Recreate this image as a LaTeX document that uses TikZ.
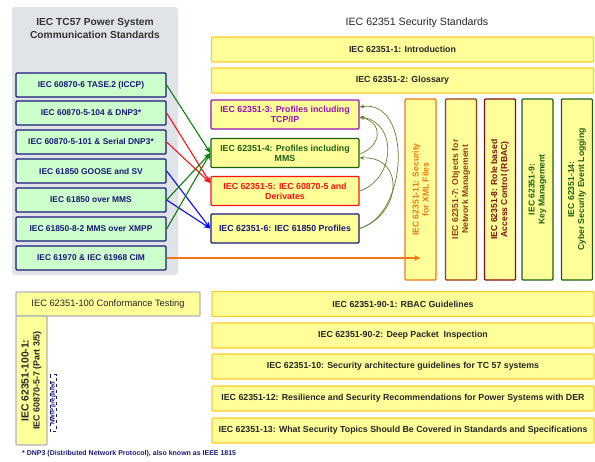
\documentclass[tikz,border=0pt]{standalone}
\usepackage{fontspec}
\setmainfont{Liberation Sans}
\usetikzlibrary{arrows.meta}
\definecolor{tcgray}{RGB}{224,227,232}
\definecolor{tcgreen}{RGB}{204,255,204}
\definecolor{tcnavy}{RGB}{25,25,120}
\definecolor{secyellow}{RGB}{255,255,153}
\definecolor{secgold}{RGB}{255,204,40}
\definecolor{secframe}{RGB}{175,180,190}
\definecolor{secpurple}{RGB}{150,20,180}
\definecolor{secgreen}{RGB}{30,95,20}
\definecolor{secred}{RGB}{250,20,20}
\definecolor{secorange}{RGB}{240,120,20}
\definecolor{secbrown}{RGB}{150,60,15}
\definecolor{secmaroon}{RGB}{130,15,15}
\definecolor{arrgreen}{RGB}{10,130,10}
\definecolor{arrblue}{RGB}{10,10,250}
\definecolor{refolive}{RGB}{100,130,45}

\begin{document}
\begin{tikzpicture}[x=1pt, y=-1pt,
  comm/.style={rectangle, draw=tcnavy, fill=tcgreen, line width=1.3pt,
               rounded corners=1pt, minimum width=150pt, minimum height=24pt,
               inner sep=1pt, text=tcnavy, font=\fontsize{8.4}{9}\selectfont\bfseries},
  sec/.style={rectangle, draw=secgold, fill=secyellow, line width=1.3pt,
              rounded corners=1pt, minimum width=382pt, minimum height=25pt,
              inner sep=1pt, align=center, text=black!85,
              font=\fontsize{8.8}{10.2}\selectfont\bfseries},
  prof/.style={sec, minimum width=148pt, minimum height=29pt},
  vsec/.style={sec, rotate=90, minimum width=181pt, minimum height=31pt,
               font=\fontsize{8.6}{10}\selectfont\bfseries},
  conn/.style={-{Stealth[length=6.5pt,width=5.5pt]}, line width=1.1pt},   % TC57 -> profile
  reuse/.style={-{Stealth[length=4.5pt,width=3.8pt]}, refolive, line width=0.7pt},
  title/.style={align=center, font=\fontsize{10.6}{12.5}\selectfont},
]
\useasboundingbox (0,0) rectangle (595,461);

% TC57 side
\node[fill=tcgray, rounded corners=3pt, minimum width=166pt, minimum height=268pt,
      inner sep=0pt] (tcpanel) at (95,141) {};
\node[title, font=\fontsize{10.2}{12.8}\selectfont\bfseries, text=black!80] (tctitle) at (95,28.5)
  {IEC TC57 Power System\\Communication Standards};

\node[comm] (tase)  at (91,85)  {IEC 60870-6 TASE.2 (ICCP)};
\node[comm] (dnpip) at (91,113) {IEC 60870-5-104 \& DNP3*};
\node[comm] (dnpsr) at (91,142) {IEC 60870-5-101 \& Serial DNP3*};
\node[comm] (goose) at (91,171) {IEC 61850 GOOSE and SV};
\node[comm] (mms)   at (91,200) {IEC 61850 over MMS};
\node[comm] (xmpp)  at (91,229) {IEC 61850-8-2 MMS over XMPP};
\node[comm] (cim)   at (91,258) {IEC 61970 \& IEC 61968 CIM};

% IEC 62351 side
\node[title, text=black!85] (sectitle) at (417,23) {IEC 62351 Security Standards};

\node[sec] (intro) at (402.5,49.5) {IEC 62351-1: Introduction};
\node[sec] (gloss) at (402.5,80.5) {IEC 62351-2: Glossary};

\node[prof, draw=secpurple, text=secpurple] (p3) at (285,114.5)
  {IEC 62351-3: Profiles including\\TCP/IP};
\node[prof, draw=secgreen, text=secgreen] (p4) at (285,153)
  {IEC 62351-4: Profiles including\\MMS};
\node[prof, draw=secred, text=secred] (p5) at (285,191)
  {IEC 62351-5: IEC 60870-5 and\\Derivates};
\node[prof, draw=tcnavy, text=tcnavy] (p6) at (285,228.5)
  {IEC 62351-6: IEC 61850 Profiles};

\node[vsec, draw=secorange, text=secorange] (p11) at (420.5,189.5)
  {IEC 62351-11: Security\\for XML Files};
\node[vsec, draw=secbrown, text=secbrown] (p7) at (461,189.5)
  {IEC 62351-7: Objects for\\Network Management};
\node[vsec, draw=secmaroon, text=secmaroon] (p8) at (500,189.5)
  {IEC 62351-8: Role based\\Access Control (RBAC)};
\node[vsec, draw=secgreen, text=secgreen] (p9) at (537.5,189.5)
  {IEC 62351-9:\\Key Management};
\node[vsec, draw=secgreen, text=secgreen] (p14) at (577,189.5)
  {IEC 62351-14:\\Cyber Security Event Logging};

% Conformance testing
\node[sec, draw=secframe, minimum width=184pt, minimum height=24pt,
      font=\fontsize{9.3}{10}\selectfont] (conf) at (108,304)
  {IEC 62351-100 Conformance Testing};
\node[vsec, draw=secframe, minimum width=129pt, font=\bfseries]
  (conf1) at (31.5,380.5)
  {{\fontsize{10.3}{11}\selectfont IEC 62351-100-1:}\\[-1pt]
   {\fontsize{8.9}{10}\selectfont IEC 60870-5-7 (Part 3/5)}};
\node[draw=tcnavy, dashed, fill=white, rotate=90, line width=0.4pt, text=tcnavy,
      minimum width=57pt, minimum height=6.5pt, inner sep=0.3pt,
      font=\fontsize{6}{6}\selectfont\bfseries] (nwip) at (53,403) {NWIP prepared};

% Guidelines
\node[sec] (g901) at (403,304)   {IEC 62351-90-1: RBAC Guidelines};
\node[sec] (g902) at (403,335.5) {IEC 62351-90-2: Deep Packet\ \ Inspection};
\node[sec] (g10)  at (403,366.5) {IEC 62351-10: Security architecture guidelines for TC 57 systems};
\node[sec] (g12)  at (403,398.5) {IEC 62351-12: Resilience and Security Recommendations for Power Systems with DER};
\node[sec] (g13)  at (403,430.5) {IEC 62351-13: What Security Topics Should Be Covered in Standards and Specifications};

\node[anchor=west, inner sep=0pt, text=tcnavy, font=\fontsize{7}{7}\selectfont\bfseries]
  (fnote) at (22,454) {* DNP3 (Distributed Network Protocol), also known as IEEE 1815};

% Protocol -> security profile
\draw[conn, arrgreen] (tase.east)  -- (p4.west);
\draw[conn, secred]   (dnpip.east) -- ([yshift=8pt]p5.west);
\draw[conn, secred]   (dnpsr.east) -- ([yshift=8pt]p5.west);
\draw[conn, arrblue]  (goose.east) -- (p6.west);
\draw[conn, arrblue]  (mms.east)   -- (p6.west);
\draw[conn, arrgreen] (mms.east)   -- (p4.west);
\draw[conn, arrgreen] (xmpp.east)  -- (p4.west);
\draw[conn, secorange] (cim.east)  -- (cim.east -| p11.west);

% Profiles reusing 62351-3
\draw[reuse] (p6.east) .. controls +(50,-15) and +(52,-8) .. ([yshift=7.5pt]p3.east);
\draw[reuse] (p5.east) .. controls +(36,-12) and +(38,5) .. ([yshift=-2.5pt]p3.east);
\draw[reuse] ([yshift=-1pt]p4.east) .. controls +(22,-8) and +(24,6) .. ([yshift=-2.5pt]p3.east);
\draw[reuse] (p6.east) .. controls +(42,-14) and +(46,-2) .. ([yshift=-5pt]p4.east);

\end{tikzpicture}
\end{document}
